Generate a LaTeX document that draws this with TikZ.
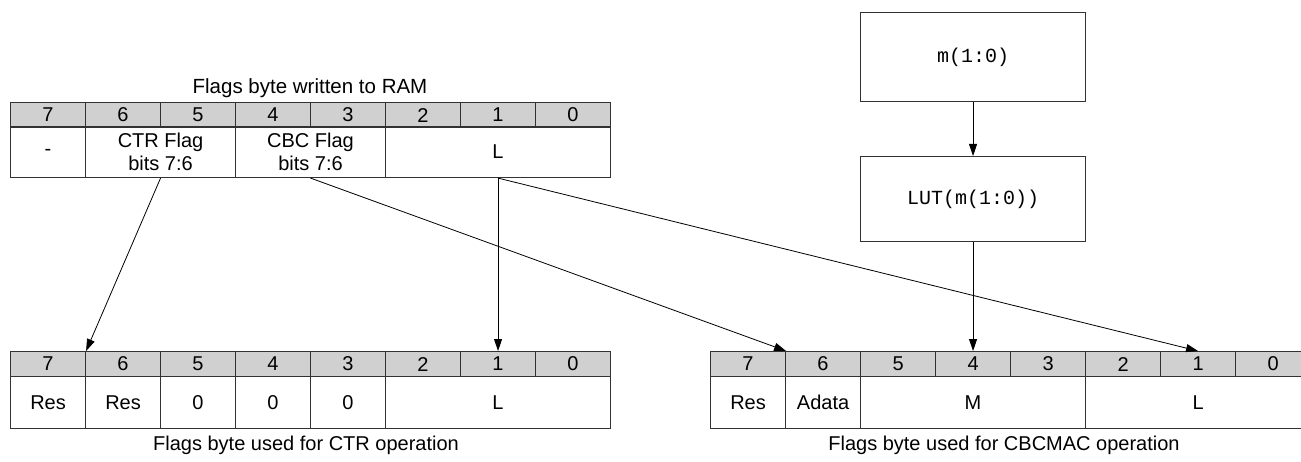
\documentclass[tikz,border=0pt]{standalone}
\usepackage{fontspec}
\setmainfont{Liberation Sans}
\setmonofont{Liberation Mono}
\usetikzlibrary{arrows.meta}
\definecolor{hdrgray}{RGB}{208,208,208}
\definecolor{bordercol}{RGB}{50,50,50}
\begin{document}
\begin{tikzpicture}[x=1pt,y=-1pt,
  txt/.style={font=\fontsize{20}{23}\selectfont},
  cell/.style={txt,draw=bordercol,line width=1.1pt,inner sep=0pt,anchor=north west,align=center},
  hdr/.style={cell,fill=hdrgray,minimum width=75pt,minimum height=25pt},
  bodycell/.style={cell,minimum height=#1},
  bodycell/.default=51pt,
  monobox/.style={draw=bordercol,line width=1.1pt,minimum width=225pt,minimum height=89pt,anchor=north west,inner sep=0pt,font=\ttfamily\fontsize{20}{23}\selectfont},
  conn/.style={line width=0.8pt,draw=black,-{Triangle[length=12pt,width=8pt]}}]
\useasboundingbox (0,0) rectangle (1301,462);
% top table
\foreach \b [count=\i from 0] in {7,6,5,4,3,2,1,0}{
  \node[hdr] (t\b) at ({10+75*\i},102) {\b};
}
\node[bodycell,minimum width=75pt] (tb7) at (10,126) {-};
\node[bodycell,minimum width=150pt] (tb65) at (85,126) {CTR Flag\\bits 7:6};
\node[bodycell,minimum width=150pt] (tb43) at (235,126) {CBC Flag\\bits 7:6};
\node[bodycell,minimum width=225pt] (tbL) at (385,126) {L};
\node[txt,anchor=base,font=\fontsize{20.5}{23}\selectfont] (ttitle) at (310,94) {Flags byte written to RAM};
% bottom-left table
\foreach \b [count=\i from 0] in {7,6,5,4,3,2,1,0}{
  \node[hdr] (b\b) at ({10+75*\i},351) {\b};
}
\node[bodycell=52pt,minimum width=75pt] (bb7) at (10,376) {Res};
\node[bodycell=52pt,minimum width=75pt] (bb6) at (85,376) {Res};
\node[bodycell=52pt,minimum width=75pt] (bb5) at (160,376) {0};
\node[bodycell=52pt,minimum width=75pt] (bb4) at (235,376) {0};
\node[bodycell=52pt,minimum width=75pt] (bb3) at (310,376) {0};
\node[bodycell=52pt,minimum width=225pt] (bbL) at (385,376) {L};
\node[txt,anchor=base] (bcap) at (306,450) {Flags byte used for CTR operation};
% bottom-right table
\foreach \b [count=\i from 0] in {7,6,5,4,3,2,1,0}{
  \node[hdr] (r\b) at ({710+75*\i},351) {\b};
}
\node[bodycell=52pt,minimum width=75pt] (rb7) at (710,376) {Res};
\node[bodycell=52pt,minimum width=75pt] (rb6) at (785,376) {Adata};
\node[bodycell=52pt,minimum width=225pt] (rbM) at (860,376) {M};
\node[bodycell=52pt,minimum width=225pt] (rbL) at (1085,376) {L};
\node[txt,anchor=base] (rcap) at (1004,450) {Flags byte used for CBCMAC operation};
% mono boxes
\node[monobox] (mbox) at (860,12) {m(1:0)};
\node[monobox,minimum height=85pt] (lut) at (860,156) {LUT(m(1:0))};
% connectors
\draw[conn] (tb65.south) -- (b7.north east);
\draw[conn] (tb43.south) -- (r7.north east);
\draw[conn] (tbL.south) -- (b1.north);
\draw[conn] (tbL.south) -- (r1.north);
\draw[conn] (mbox.south) -- (lut.north);
\draw[conn] (lut.south) -- (r4.north);
\end{tikzpicture}
\end{document}
